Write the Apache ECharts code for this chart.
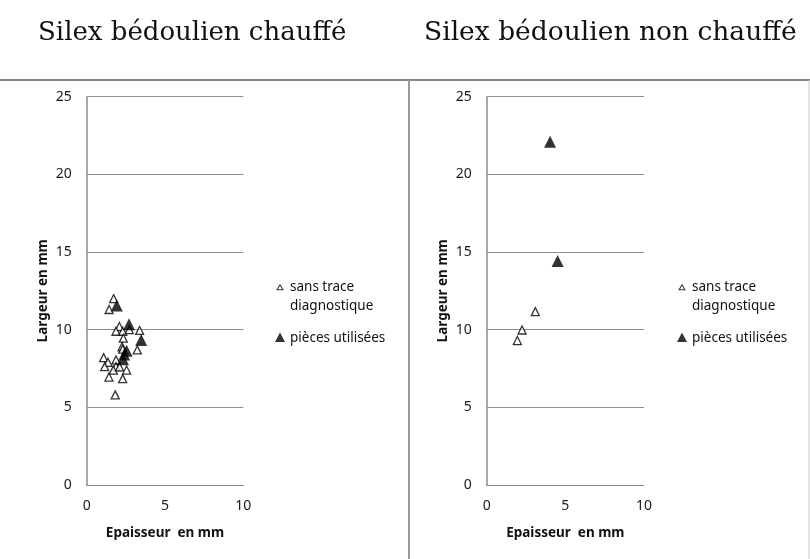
<!DOCTYPE html>
<html><head><meta charset="utf-8">
<script src="https://cdn.jsdelivr.net/npm/echarts@6/dist/echarts.min.js"></script>
<style>html,body{margin:0;padding:0;background:#fff}#c{width:810px;height:559px}</style>
</head><body><div id="c"></div>
<script>
const titles = ['Silex bédoulien chauffé', 'Silex bédoulien non chauffé'];
const seriesNames = ['sans trace diagnostique', 'pièces utilisées'];
const xName = 'Epaisseur  en mm';
const yName = 'Largeur en mm';
const xTicks = [0, 5, 10];
const yTicks = [0, 5, 10, 15, 20, 25];

// Left panel: heated flint
const heatedPlain = [
  [1.72, 12.0], [1.43, 11.3], [2.09, 10.2], [1.87, 9.9], [2.3, 9.9], [2.72, 10.0],
  [3.38, 9.95], [2.34, 9.45], [2.26, 8.9], [2.3, 8.75], [3.23, 8.7], [1.08, 8.2],
  [1.36, 7.9], [1.15, 7.62], [1.87, 8.05], [1.87, 7.62], [1.7, 7.4], [2.1, 7.6],
  [2.55, 7.4], [1.42, 6.95], [2.3, 6.85], [1.82, 5.8]
];
const heatedUsed = [
  [1.92, 11.55], [2.7, 10.35], [3.48, 9.33], [2.55, 8.65], [2.4, 8.4], [2.32, 8.1]
];
// Right panel: non-heated flint
const unheatedPlain = [[1.95, 9.3], [2.25, 9.98], [3.09, 11.16]];
const unheatedUsed = [[4.03, 22.1], [4.51, 14.42]];

const fontUI = '"Noto Sans", "Open Sans", sans-serif';
const gridColor = '#8c8c8c';

// legend icons (10 x 38 box): hollow triangle on first text line, filled one centred
const iconHollow = 'path://M0,0L10,0L0,0Z M5,6.2L8.8,12.8L1.2,12.8Z M5,8.3L3,11.8L7,11.8Z M0,38L10,38L0,38Z';
const iconFilled = 'path://M0,0L10,0L0,0Z M5,13.5L10,23L0,23Z M0,38L10,38L0,38Z';

function xAxis(i) {
  return {
    gridIndex: i, type: 'value', min: xTicks[0], max: xTicks[xTicks.length - 1], interval: 5,
    name: xName, nameLocation: 'middle', nameGap: 41,
    nameTextStyle: { fontFamily: fontUI, fontWeight: 'bold', fontSize: 13.5, color: '#111' },
    axisLine: { show: true, lineStyle: { color: gridColor, width: 1 } },
    axisTick: { show: false }, splitLine: { show: false },
    axisLabel: { margin: 14, fontFamily: fontUI, fontSize: 14, color: '#1a1a1a' }
  };
}
function yAxis(i) {
  return {
    gridIndex: i, type: 'value', min: yTicks[0], max: yTicks[yTicks.length - 1], interval: 5,
    name: yName, nameLocation: 'middle', nameGap: 37,
    nameTextStyle: { fontFamily: fontUI, fontWeight: 'bold', fontSize: 13.5, color: '#111' },
    axisLine: { show: true, lineStyle: { color: gridColor, width: 1.5 } },
    axisTick: { show: false },
    splitLine: { show: true, lineStyle: { color: gridColor, width: 1 } },
    axisLabel: { margin: 15, fontFamily: fontUI, fontSize: 14, color: '#1a1a1a' }
  };
}
const plainStyle = { color: '#fff', borderColor: '#000', borderWidth: 1.3 };
const usedStyle = { color: '#000' };

function legend(left) {
  return {
    left: left, top: 272.5, orient: 'vertical', itemGap: 3.5, itemWidth: 10, itemHeight: 38,
    selectedMode: false,
    data: [
      { name: seriesNames[0], icon: iconHollow, itemStyle: { color: '#000', borderWidth: 0 } },
      { name: seriesNames[1], icon: iconFilled, itemStyle: { color: '#000', borderWidth: 0 } }
    ],
    formatter: n => n === seriesNames[0] ? 'sans trace\ndiagnostique' : n,
    textStyle: { fontFamily: fontUI, fontSize: 13.5, color: '#111', lineHeight: 19 }
  };
}

const chart = echarts.init(document.getElementById('c'), null, { renderer: 'canvas' });
chart.setOption({
  backgroundColor: '#fff',
  animation: false,
  title: [
    { text: titles[0], left: 33, top: 15, textStyle: { fontFamily: '"DejaVu Serif", serif', fontWeight: 'normal', fontSize: 26, color: '#111' } },
    { text: titles[1], left: 419, top: 15, textStyle: { fontFamily: '"DejaVu Serif", serif', fontWeight: 'normal', fontSize: 26.5, color: '#111' } }
  ],
  graphic: [
    { type: 'line', shape: { x1: 0, y1: 80, x2: 810, y2: 80 }, style: { stroke: '#8a8a8a', lineWidth: 2 } },
    { type: 'line', shape: { x1: 409, y1: 80, x2: 409, y2: 559 }, style: { stroke: '#9a9a9a', lineWidth: 2 } },
    { type: 'line', shape: { x1: 809, y1: 80, x2: 809, y2: 559 }, style: { stroke: '#c8c8c8', lineWidth: 1 } }
  ],
  grid: [
    { left: 86.7, top: 96.7, width: 156.6, height: 388.3 },
    { left: 486.7, top: 96.7, width: 157.3, height: 388.3 }
  ],
  xAxis: [xAxis(0), xAxis(1)],
  yAxis: [yAxis(0), yAxis(1)],
  legend: [legend(270), legend(672)],
  series: [
    { name: seriesNames[0], type: 'scatter', xAxisIndex: 0, yAxisIndex: 0, symbol: 'triangle', symbolSize: 8, itemStyle: plainStyle, data: heatedPlain },
    { name: seriesNames[1], type: 'scatter', xAxisIndex: 0, yAxisIndex: 0, symbol: 'triangle', symbolSize: 12, itemStyle: usedStyle, data: heatedUsed },
    { name: seriesNames[0], type: 'scatter', xAxisIndex: 1, yAxisIndex: 1, symbol: 'triangle', symbolSize: 8, itemStyle: plainStyle, data: unheatedPlain },
    { name: seriesNames[1], type: 'scatter', xAxisIndex: 1, yAxisIndex: 1, symbol: 'triangle', symbolSize: 12, itemStyle: usedStyle, data: unheatedUsed }
  ]
});
</script></body></html>
